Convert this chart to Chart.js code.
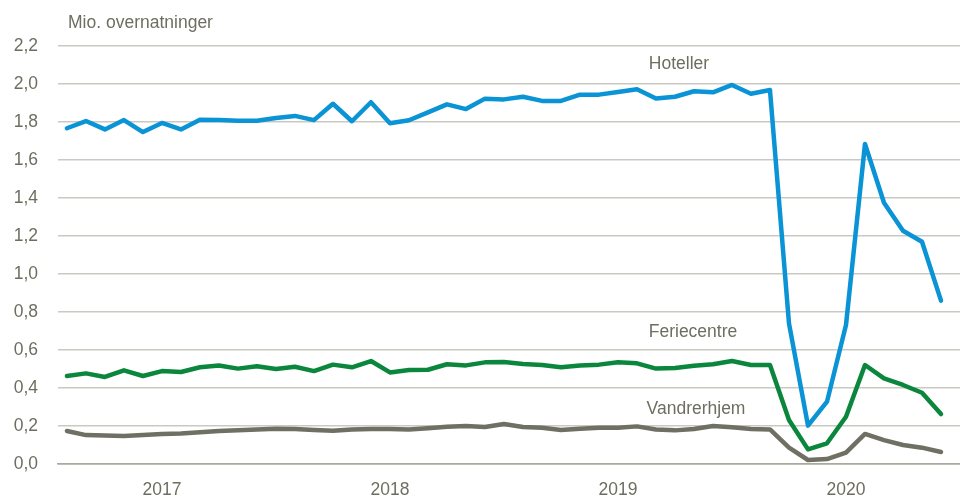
<!DOCTYPE html>
<html>
<head>
<meta charset="utf-8">
<script src="https://cdn.jsdelivr.net/npm/chart.js@4.4.1/dist/chart.umd.min.js"></script>
<style>
html,body{margin:0;padding:0;background:#fff;}
#wrap{width:960px;height:497px;position:relative;}
</style>
</head>
<body>
<div id="wrap"><canvas id="c" width="960" height="497"></canvas></div>
<script>
// Months Jan 2017 .. Nov 2020
const months = [];
for (const y of [2017, 2018, 2019, 2020]) {
  for (let m = 1; m <= 12; m++) {
    if (y === 2020 && m > 11) break;
    months.push(y + '-' + String(m).padStart(2, '0'));
  }
}
const yearLabels = ['2017', '2018', '2019', '2020'];
const yearTickIndex = [5, 17, 29, 41];

const hoteller = [1.767, 1.805, 1.761, 1.810, 1.747, 1.795, 1.761, 1.812, 1.810, 1.807, 1.807, 1.821,
  1.832, 1.810, 1.896, 1.804, 1.904, 1.793, 1.809, 1.851, 1.893, 1.868, 1.923, 1.919,
  1.933, 1.911, 1.911, 1.944, 1.944, 1.958, 1.972, 1.924, 1.933, 1.962, 1.956, 1.995,
  1.949, 1.968, 0.740, 0.202, 0.328, 0.732, 1.684, 1.375, 1.228, 1.170, 0.860];
const feriecentre = [0.463, 0.477, 0.458, 0.493, 0.463, 0.489, 0.484, 0.509, 0.518, 0.502, 0.514, 0.500,
  0.512, 0.489, 0.523, 0.509, 0.542, 0.482, 0.495, 0.496, 0.525, 0.519, 0.535, 0.537,
  0.526, 0.521, 0.509, 0.519, 0.523, 0.535, 0.530, 0.502, 0.505, 0.517, 0.525, 0.542,
  0.521, 0.521, 0.232, 0.077, 0.109, 0.249, 0.521, 0.451, 0.416, 0.375, 0.263];
const vandrerhjem = [0.174, 0.152, 0.150, 0.148, 0.153, 0.158, 0.160, 0.167, 0.174, 0.177, 0.181, 0.186,
  0.184, 0.179, 0.175, 0.181, 0.184, 0.184, 0.181, 0.188, 0.196, 0.200, 0.195, 0.211,
  0.195, 0.191, 0.179, 0.186, 0.191, 0.191, 0.198, 0.182, 0.177, 0.184, 0.200, 0.193,
  0.184, 0.182, 0.086, 0.021, 0.026, 0.060, 0.158, 0.126, 0.100, 0.086, 0.063];
const seriesNames = ['Hoteller', 'Feriecentre', 'Vandrerhjem'];
const yTicks = [0, 0.2, 0.4, 0.6, 0.8, 1.0, 1.2, 1.4, 1.6, 1.8, 2.0, 2.2];
const yTitle = 'Mio. overnatninger';

const TXT = '#6e6e60';
const FONT = "'Liberation Sans', Arial, sans-serif";
Chart.defaults.font.family = FONT;
Chart.defaults.font.size = 17.5;
Chart.defaults.color = TXT;

const toXY = arr => arr.map((v, i) => ({x: i, y: v}));

const labelPlugin = {
  id: 'labels',
  afterDraw(chart) {
    const ctx = chart.ctx;
    ctx.save();
    ctx.fillStyle = TXT;
    ctx.font = '17.5px ' + FONT;
    ctx.textBaseline = 'alphabetic';
    ctx.textAlign = 'left';
    ctx.fillText(yTitle, 68, 28);
    ctx.textAlign = 'center';
    ctx.fillText(seriesNames[0], 679, 69);
    ctx.fillText(seriesNames[1], 693, 337);
    ctx.fillText(seriesNames[2], 696, 414);
    ctx.restore();
  }
};

const common = {pointRadius: 0, borderWidth: 4.5, tension: 0, borderJoinStyle: 'round', borderCapStyle: 'round', fill: false};

new Chart(document.getElementById('c'), {
  type: 'line',
  data: {
    datasets: [
      Object.assign({label: seriesNames[0], data: toXY(hoteller), borderColor: '#0a93d5'}, common),
      Object.assign({label: seriesNames[1], data: toXY(feriecentre), borderColor: '#0b873d'}, common),
      Object.assign({label: seriesNames[2], data: toXY(vandrerhjem), borderColor: '#6f6f63'}, common)
    ]
  },
  options: {
    responsive: false,
    animation: false,
    layout: {padding: {top: 46, left: 0, right: 0, bottom: 0}},
    plugins: {legend: {display: false}, tooltip: {enabled: false}},
    scales: {
      x: {
        type: 'linear',
        min: -0.47,
        max: 47,
        afterFit(s) { s.height = 33; },
        afterBuildTicks(s) { s.ticks = yearTickIndex.map(v => ({value: v})); },
        ticks: {
          autoSkip: false,
          maxRotation: 0,
          padding: 16,
          callback(v) { const k = yearTickIndex.indexOf(v); return k >= 0 ? yearLabels[k] : ''; }
        },
        grid: {display: false, drawTicks: false},
        border: {display: true, color: '#a9a99d', width: 1.5}
      },
      y: {
        min: 0,
        max: 2.2,
        afterFit(s) { s.width = 58; },
        afterBuildTicks(s) { s.ticks = yTicks.map(v => ({value: v})); },
        ticks: {
          padding: 20,
          callback(v) { return v.toFixed(1).replace('.', ','); }
        },
        grid: {
          drawTicks: false,
          color: ctx => ctx.tick && ctx.tick.value === 0 ? '#a9a99d' : '#c9c9c1',
          lineWidth: 1.5
        },
        border: {display: false}
      }
    }
  },
  plugins: [labelPlugin]
});
</script>
</body>
</html>
